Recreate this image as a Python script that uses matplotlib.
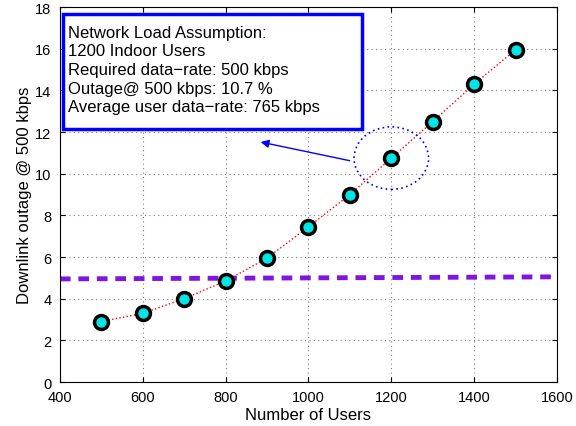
import numpy as np
import matplotlib
matplotlib.use('Agg')
import matplotlib.pyplot as plt
from matplotlib.patches import Ellipse, Rectangle

plt.rcParams['font.family'] = ['Liberation Sans', 'DejaVu Sans']

users = [500, 600, 700, 800, 900, 1000, 1100, 1200, 1300, 1400, 1500]
outage = [2.9, 3.3, 4.0, 4.85, 5.95, 7.45, 9.0, 10.75, 12.5, 14.3, 15.95]
target_x = [400, 1600]
target_y = [4.95, 5.05]

box_lines = ["Network Load Assumption:",
             "1200 Indoor Users",
             "Required data\u2212rate: 500 kbps",
             "Outage@ 500 kbps: 10.7 %",
             "Average user data\u2212rate: 765 kbps"]

fig = plt.figure(figsize=(5.76, 4.27), dpi=100)
ax = fig.add_axes([0.104, 0.103, 0.863, 0.878])

ax.plot(target_x, target_y, '--', color='#7f16e0', lw=3.5, dashes=(2.2, 1.6), zorder=2)
ax.plot(users, outage, ':', color='red', lw=1.0, zorder=3)
ax.plot(users, outage, 'o', ms=10, mfc='#00e5e5', mec='black', mew=2.5, zorder=4)

# highlight the 1200 user point
ell = Ellipse((1200, 10.75), 180, 3.0, fill=False, ec='blue', ls=(0, (1, 2)), lw=1.2, zorder=3)
ax.add_patch(ell)
ax.annotate('', xy=(878, 11.55), xytext=(1106, 10.6),
            arrowprops=dict(arrowstyle='-|>', color='blue', lw=1.0, mutation_scale=12))

rect = Rectangle((407, 12.15), 722, 5.52, fill=True, fc='white', ec='blue', lw=2.5, zorder=5)
ax.add_patch(rect)
ax.text(420, 17.15, "\n".join(box_lines), fontsize=12, va='top', ha='left',
        linespacing=1.3, zorder=6)

ax.set_xlim(400, 1600)
ax.set_ylim(0, 18)
ax.set_xticks(np.arange(400, 1601, 200))
ax.set_yticks(np.arange(0, 19, 2))
ax.grid(True, ls=(0, (1, 3)), color='gray', lw=0.8)
ax.tick_params(direction='in', labelsize=10.5, top=True, right=True)
ax.tick_params(axis='x', pad=6)
ax.tick_params(axis='y', pad=6)
ax.set_xlabel('Number of Users', fontsize=12, labelpad=2)
ax.set_ylabel('Downlink outage @ 500 kbps', fontsize=12, labelpad=2)

fig.savefig('out.png', dpi=100)
